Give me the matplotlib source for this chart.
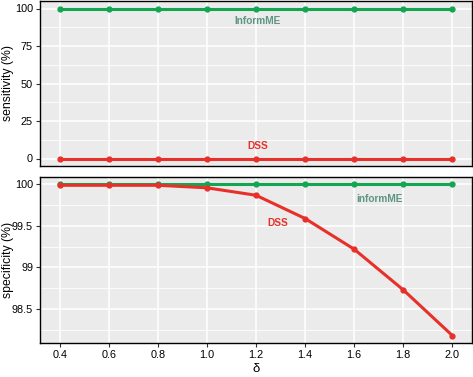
import matplotlib
matplotlib.use("Agg")
import matplotlib.pyplot as plt
from matplotlib.ticker import FixedLocator

plt.rcParams['font.family'] = ['Liberation Sans', 'DejaVu Sans']

delta = [0.4, 0.6, 0.8, 1.0, 1.2, 1.4, 1.6, 1.8, 2.0]
sens_informme = [100, 100, 100, 100, 100, 100, 100, 100, 100]
sens_dss = [0, 0, 0, 0, 0, 0, 0, 0, 0]
spec_informme = [100, 100, 100, 100, 100, 100, 100, 100, 100]
spec_dss = [99.99, 99.99, 99.99, 99.96, 99.87, 99.59, 99.22, 98.73, 98.18]
xticks = [0.4, 0.6, 0.8, 1.0, 1.2, 1.4, 1.6, 1.8, 2.0]
xticklabels = ["0.4", "0.6", "0.8", "1.0", "1.2", "1.4", "1.6", "1.8", "2.0"]

GREEN = "#13a552"
RED = "#e8302a"
TEAL = "#5e9585"
BG = "#ebebeb"

W, H = 473, 377
fig = plt.figure(figsize=(W / 100, H / 100), dpi=100)
ax1 = fig.add_axes([40 / W, 1 - 166 / H, 432 / W, 165 / H])
ax2 = fig.add_axes([40 / W, 1 - 343 / H, 432 / W, 166 / H])

def style(ax):
    ax.set_facecolor(BG)
    ax.grid(True, which='major', color='white', linewidth=1.1)
    ax.grid(True, which='minor', axis='y', color='white', linewidth=0.6)
    ax.set_axisbelow(True)
    for s in ax.spines.values():
        s.set_color('black')
        s.set_linewidth(1.0)
    ax.tick_params(axis='both', which='major', length=3, color='#333333',
                   labelsize=7.8, labelcolor='black', pad=2)
    ax.tick_params(axis='both', which='minor', length=0)
    ax.set_xlim(0.32, 2.08)
    ax.set_xticks(xticks)

for ax in (ax1, ax2):
    style(ax)

# Top panel
ax1.plot(delta, sens_informme, color=GREEN, lw=2.2, marker='o', ms=3.5, zorder=3)
ax1.plot(delta, sens_dss, color=RED, lw=2.2, marker='o', ms=3.5, zorder=3)
ax1.set_ylim(-5, 105)
ax1.set_yticks([0, 25, 50, 75, 100])
ax1.yaxis.set_minor_locator(FixedLocator([12.5, 37.5, 62.5, 87.5]))
ax1.set_xticklabels([])
ax1.tick_params(axis='x', length=0)
fig.text(8 / W, 1 - 83 / H, "sensitivity (%)", fontsize=8.8, rotation=90,
         ha='center', va='center')
ax1.text(1.206, 91.4, "InformME", color=TEAL, fontsize=7.3, fontweight='bold',
         ha='center', va='center')
ax1.text(1.206, 8.6, "DSS", color=RED, fontsize=7.3, fontweight='bold',
         ha='center', va='center')

# Bottom panel
ax2.plot(delta, spec_informme, color=GREEN, lw=2.2, marker='o', ms=3.5, zorder=3)
ax2.plot(delta, spec_dss, color=RED, lw=2.2, marker='o', ms=3.5, zorder=4)
ax2.set_ylim(98.09, 100.09)
ax2.set_yticks([98.5, 99, 99.5, 100])
ax2.set_yticklabels(["98.5", "99", "99.5", "100"])
ax2.yaxis.set_minor_locator(FixedLocator([98.25, 98.75, 99.25, 99.75]))
ax2.set_xticklabels(xticklabels)
fig.text(8 / W, 1 - 260 / H, "specificity (%)", fontsize=8.8, rotation=90,
         ha='center', va='center')
fig.text(256 / W, 1 - 369 / H, "δ", fontsize=9.5, ha='center', va='center')
ax2.text(1.703, 99.83, "informME", color=TEAL, fontsize=7.3, fontweight='bold',
         ha='center', va='center')
ax2.text(1.29, 99.54, "DSS", color=RED, fontsize=7.3, fontweight='bold',
         ha='center', va='center')

fig.savefig("out.png", dpi=100)
